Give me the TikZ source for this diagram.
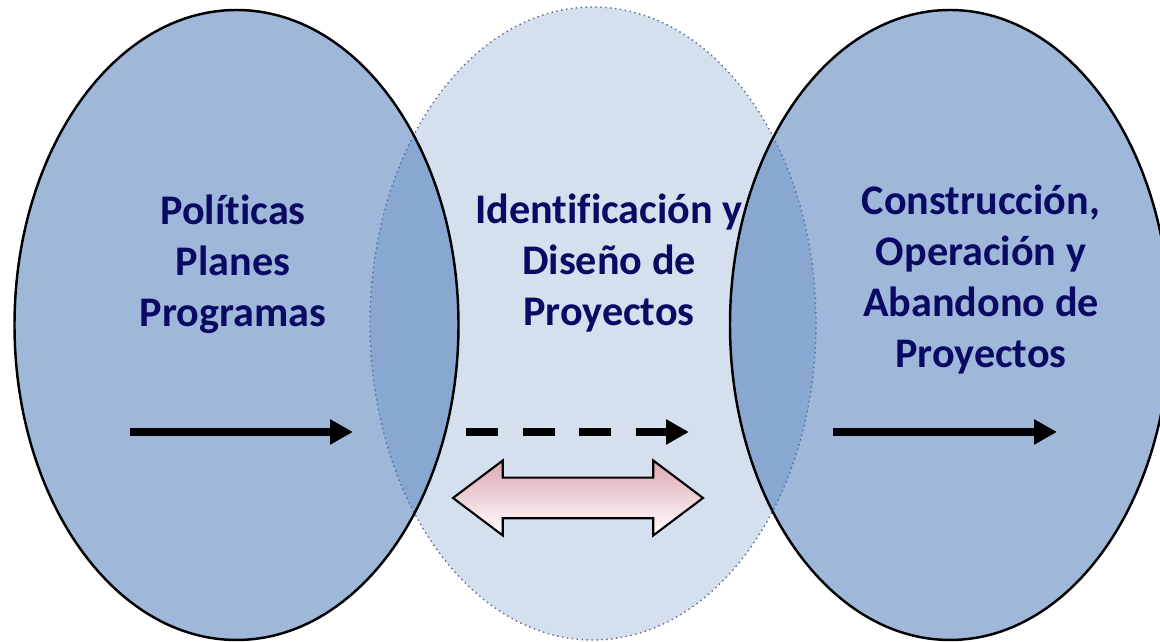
\documentclass[tikz,border=0pt]{standalone}
\usepackage{fontspec}
\setmainfont[Ligatures=NoCommon]{Carlito}
\usetikzlibrary{arrows.meta,shapes.geometric,shapes.arrows}
\definecolor{azulfase}{RGB}{63,113,181}
\definecolor{azulclaro}{RGB}{213,224,239}
\definecolor{bordeclaro}{RGB}{95,105,150}
\definecolor{textoazul}{RGB}{10,10,100}
\definecolor{rosa}{RGB}{222,168,180}
\tikzset{
	fase/.style={ellipse, draw=black, line width=0.7pt, fill=azulfase, fill opacity=0.5,
			inner sep=0pt, minimum width=4.44cm, minimum height=6.30cm},
	etiqueta/.style={align=center, text=textoazul, font=\fontsize{12}{14.5}\selectfont\bfseries},
	flecha/.style={line width=2.3pt, -{Triangle[length=0.23cm,width=0.24cm]}}
}

\begin{document}
\begin{tikzpicture}
	\useasboundingbox (0,0) rectangle (11.6,6.42);
	% middle phase first, the outer ones lie over it
	\node (diseno) [ellipse, draw=bordeclaro, densely dotted, line width=0.4pt, fill=azulclaro,
		inner sep=0pt, minimum width=4.46cm, minimum height=6.33cm] at (5.93,3.185) {};
	\node (politicas) [fase] at (2.365,3.17) {};
	\node (construccion) [fase, minimum width=4.40cm] at (9.50,3.17) {};

	\node (txtpol) [etiqueta] at (2.33,3.78) {Políticas\\Planes\\Programas};
	\node (txtdis) [etiqueta] at (6.09,3.79) {Identificación y\\Diseño de\\Proyectos};
	\node (txtcon) [etiqueta] at (9.81,3.625) {Construcción,\\Operación y\\Abandono de\\Proyectos};

	\coordinate (p1) at (1.30,2.10);
	\coordinate (p2) at (3.53,2.10);
	\coordinate (d1) at (4.66,2.10);
	\coordinate (d2) at (6.89,2.10);
	\coordinate (c1) at (8.33,2.10);
	\coordinate (c2) at (10.57,2.10);
	\draw[flecha] (p1) -- (p2);
	\draw[flecha, dash pattern=on 0.32cm off 0.245cm] (d1) -- (d2);
	\draw[flecha] (c1) -- (c2);

	\node (ida) [double arrow, draw=black, line width=0.6pt, top color=rosa, bottom color=white,
		inner xsep=0pt, inner ysep=0.19cm, minimum height=2.5cm, minimum width=0.75cm,
		double arrow head extend=0.17cm, double arrow tip angle=74] at (5.78,1.44) {};
\end{tikzpicture}
\end{document}
